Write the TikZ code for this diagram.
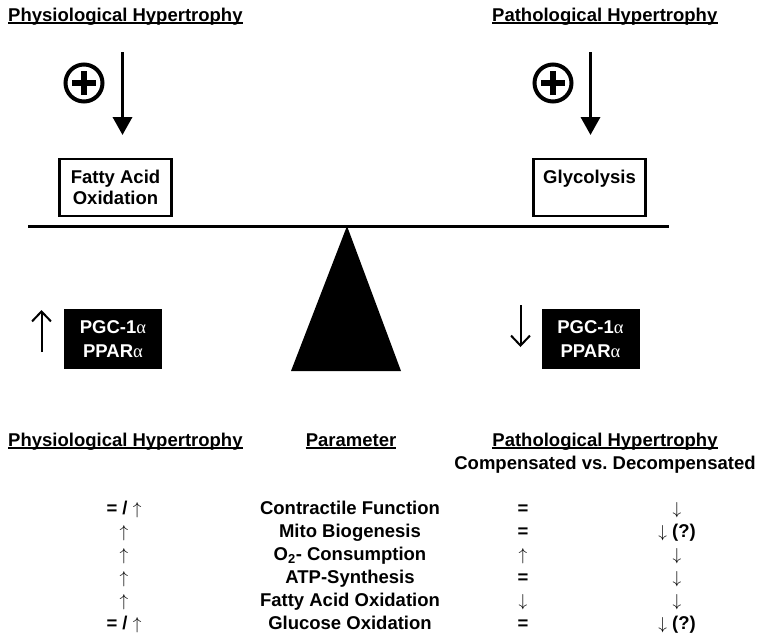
\documentclass[tikz,border=0pt]{standalone}
\usepackage{fontspec}
\setmainfont{Liberation Sans}
\newfontfamily\alphafont{Liberation Serif}
\usetikzlibrary{arrows.meta}

\newcommand{\galpha}{{\alphafont\mdseries α}}

\begin{document}
\begin{tikzpicture}[x=1pt, y=-1pt,
    txt/.style={font=\fontsize{18.5}{21}\selectfont\bfseries, inner sep=0pt},
    titel/.style={txt, anchor=base west},
    zelle/.style={txt, anchor=base},
    strich/.style={line width=1.6pt},
    kasten/.style={txt, draw, line width=2.5pt, minimum width=112pt, minimum height=57pt, align=center},
    schwarz/.style={txt, fill=black, text=white, minimum width=98pt, minimum height=60pt, align=center, font=\fontsize{18.5}{24}\selectfont\bfseries},
    plus/.style={draw, circle, line width=4pt, minimum size=37pt, inner sep=0pt},
    gross/.style={line width=3.5pt, -{Triangle[length=18pt,width=19pt]}},
    duenn/.style={line width=2pt, -{Straight Barb[length=10pt,width=19pt]}},
]
\useasboundingbox (0,0) rectangle (762,638);

% titles on top
\node[titel] (tPhysio) at (8,21) {Physiological Hypertrophy};
\node[titel] (tPatho) at (492,21) {Pathological Hypertrophy};
\draw[strich] ([yshift=-2pt]tPhysio.base west) -- ([yshift=-2pt]tPhysio.base east);
\draw[strich] ([yshift=-2pt]tPatho.base west) -- ([yshift=-2pt]tPatho.base east);

% plus signs
\node[plus] (plusL) at (84,83) {};
\node[plus] (plusR) at (553,83) {};
\draw[line width=6pt] ([xshift=-12pt]plusL.center) -- ([xshift=12pt]plusL.center);
\draw[line width=6pt] ([yshift=-12pt]plusL.center) -- ([yshift=12pt]plusL.center);
\draw[line width=6pt] ([xshift=-12pt]plusR.center) -- ([xshift=12pt]plusR.center);
\draw[line width=6pt] ([yshift=-12pt]plusR.center) -- ([yshift=12pt]plusR.center);

% big arrows
\coordinate (grossLa) at (122.5,52);
\coordinate (grossLb) at (122.5,135);
\coordinate (grossRa) at (590.5,52);
\coordinate (grossRb) at (590.5,135);
\draw[gross] (grossLa) -- (grossLb);
\draw[gross] (grossRa) -- (grossRb);

% boxes on the beam
\node[kasten] (fao) at (115.5,187.5) {Fatty Acid\\Oxidation};
\node[kasten] (glyco) at (589.5,187.5) {Glycolysis\\\mbox{}};

% beam and pivot
\coordinate (balkenL) at (28,226);
\coordinate (balkenR) at (669,226);
\draw[line width=3pt] (balkenL) -- (balkenR);
\fill (347,226) -- (291,371) -- (401,371) -- cycle;

% PGC boxes
\node[schwarz] (pgcL) at (113,339) {PGC-1\galpha\\PPAR\galpha};
\node[schwarz] (pgcR) at (590.5,339) {PGC-1\galpha\\PPAR\galpha};
\coordinate (hochA) at (41.5,352);
\coordinate (hochB) at (41.5,310);
\coordinate (tiefA) at (520.5,305);
\coordinate (tiefB) at (520.5,347);
\draw[duenn] (hochA) -- (hochB);
\draw[duenn] (tiefA) -- (tiefB);

% table header
\node[titel] (hPhysio) at (8,446) {Physiological Hypertrophy};
\node[zelle] (hParam) at (351,446) {Parameter};
\node[zelle] (hPatho) at (605,446) {Pathological Hypertrophy};
\node[zelle] (hComp) at (605,469) {Compensated vs.\ Decompensated};
\draw[strich] ([yshift=-2pt]hPhysio.base west) -- ([yshift=-2pt]hPhysio.base east);
\draw[strich] ([yshift=-2pt]hParam.base west) -- ([yshift=-2pt]hParam.base east);
\draw[strich] ([yshift=-2pt]hPatho.base west) -- ([yshift=-2pt]hPatho.base east);

% table rows
\node[zelle] (a1) at (124,514) {= / $\uparrow$};
\node[zelle] (b1) at (350,514) {Contractile Function};
\node[zelle] (c1) at (523,514) {=};
\node[zelle] (d1) at (677,514) {$\downarrow$};

\node[zelle] (a2) at (124,537) {$\uparrow$};
\node[zelle] (b2) at (350,537) {Mito Biogenesis};
\node[zelle] (c2) at (523,537) {=};
\node[zelle] (d2) at (677,537) {$\downarrow$ (?)};

\node[zelle] (a3) at (124,560) {$\uparrow$};
\node[zelle] (b3) at (350,560) {O\textsubscript{2}- Consumption};
\node[zelle] (c3) at (523,560) {$\uparrow$};
\node[zelle] (d3) at (677,560) {$\downarrow$};

\node[zelle] (a4) at (124,583) {$\uparrow$};
\node[zelle] (b4) at (350,583) {ATP-Synthesis};
\node[zelle] (c4) at (523,583) {=};
\node[zelle] (d4) at (677,583) {$\downarrow$};

\node[zelle] (a5) at (124,606) {$\uparrow$};
\node[zelle] (b5) at (350,606) {Fatty Acid Oxidation};
\node[zelle] (c5) at (523,606) {$\downarrow$};
\node[zelle] (d5) at (677,606) {$\downarrow$};

\node[zelle] (a6) at (124,629) {= / $\uparrow$};
\node[zelle] (b6) at (350,629) {Glucose Oxidation};
\node[zelle] (c6) at (523,629) {=};
\node[zelle] (d6) at (677,629) {$\downarrow$ (?)};

\end{tikzpicture}
\end{document}
